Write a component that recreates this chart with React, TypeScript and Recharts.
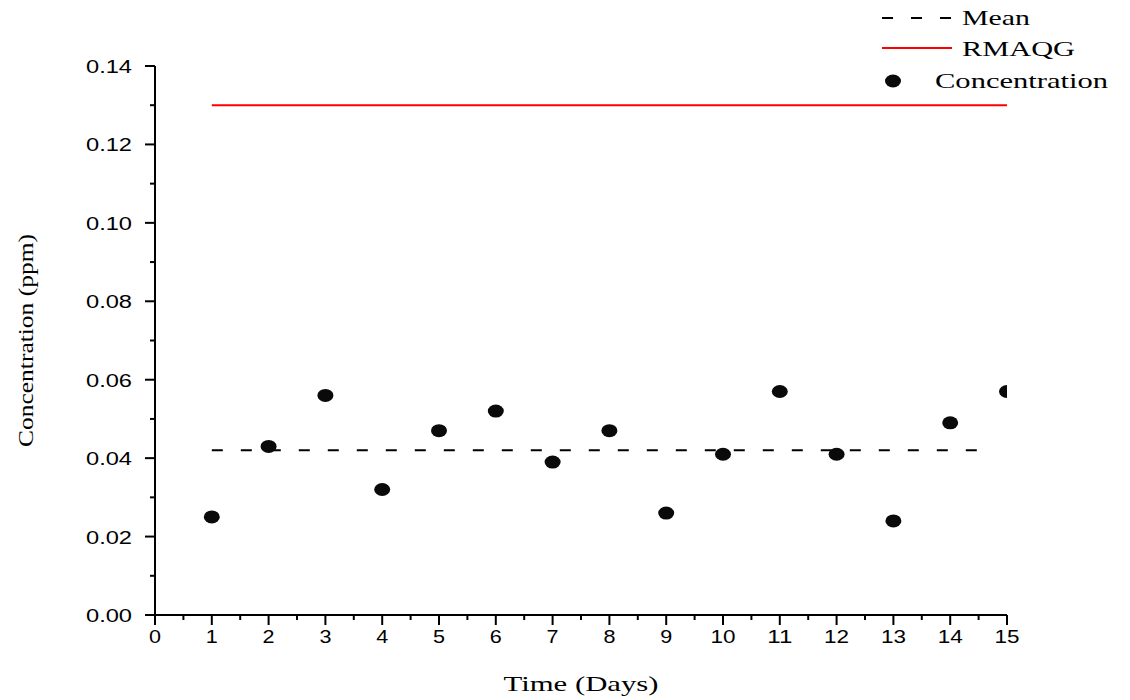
import { ComposedChart, Line, Scatter, XAxis, YAxis } from 'recharts';

// Daily concentration readings (ppm), days 1-15
const days = [1, 2, 3, 4, 5, 6, 7, 8, 9, 10, 11, 12, 13, 14, 15];
const concentration = [0.025, 0.043, 0.056, 0.032, 0.047, 0.052, 0.039, 0.047, 0.026, 0.041, 0.057, 0.041, 0.024, 0.049, 0.057];

// Mean line and the RMAQG guideline
const meanX = [1, 14.55];
const meanValue = 0.042;
const rmaqgX = [1, 15];
const rmaqgValue = 0.13;

// axis ticks (majors get labels, the halves between are minor ticks)
const xTicks = [0, 0.5, 1, 1.5, 2, 2.5, 3, 3.5, 4, 4.5, 5, 5.5, 6, 6.5, 7, 7.5, 8, 8.5, 9, 9.5, 10, 10.5, 11, 11.5, 12, 12.5, 13, 13.5, 14, 14.5, 15];
const yTicks = [0, 0.01, 0.02, 0.03, 0.04, 0.05, 0.06, 0.07, 0.08, 0.09, 0.1, 0.11, 0.12, 0.13, 0.14];

const legendLabels = ['Mean', 'RMAQG', 'Concentration'];

const concData = days.map((d, i) => ({ x: d, y: concentration[i] }));
const meanData = meanX.map((x) => ({ x, y: meanValue }));
const rmaqgData = rmaqgX.map((x) => ({ x, y: rmaqgValue }));

const SANS = '"Liberation Sans", Arial, sans-serif';
const SERIF = '"Liberation Serif", "Times New Roman", serif';

const XTick = (props: any) => {
  const { x, y, payload } = props;
  const v = payload.value;
  const major = Number.isInteger(v);
  return (
    <g>
      <line x1={x} x2={x} y1={y} y2={y + (major ? 10 : 5)} stroke="#000" strokeWidth={2} />
      {major && (
        <text
          x={x}
          y={y + 28}
          textAnchor="middle"
          fontFamily={SANS}
          fontSize={19}
          fill="#000"
          textLength={v >= 10 ? 25 : 12}
          lengthAdjust="spacingAndGlyphs"
        >
          {v}
        </text>
      )}
    </g>
  );
};

const YTick = (props: any) => {
  const { x, y, payload } = props;
  const v = payload.value;
  const major = Math.round(v * 100) % 2 === 0;
  return (
    <g>
      <line x1={x - (major ? 10 : 5)} x2={x} y1={y} y2={y} stroke="#000" strokeWidth={2} />
      {major && (
        <text
          x={x - 69}
          y={y + 7}
          fontFamily={SANS}
          fontSize={18}
          fill="#000"
          textLength={46}
          lengthAdjust="spacingAndGlyphs"
        >
          {v.toFixed(2)}
        </text>
      )}
    </g>
  );
};

const Dot = (props: any) => {
  const { cx, cy } = props;
  return <ellipse cx={cx} cy={cy} rx={8} ry={6.5} fill="#0a0a0a" />;
};

// legend drawn on top, in the upper right corner
const LegendBox = () => (
  <svg width={250} height={95} style={{ position: 'absolute', left: 870, top: 0, overflow: 'visible' }}>
    <line x1={4} x2={77} y1={10} y2={10} stroke="#000" strokeWidth={2} strokeDasharray="11 18" />
    <text x={84} y={17} fontFamily={SERIF} fontSize={22} textLength={68} lengthAdjust="spacingAndGlyphs">{legendLabels[0]}</text>
    <line x1={4} x2={74} y1={40} y2={40} stroke="#ff0000" strokeWidth={2} />
    <text x={84} y={48} fontFamily={SERIF} fontSize={22} textLength={113} lengthAdjust="spacingAndGlyphs">{legendLabels[1]}</text>
    <ellipse cx={15} cy={73} rx={8} ry={6.5} fill="#0a0a0a" />
    <text x={57} y={80} fontFamily={SERIF} fontSize={22} textLength={173} lengthAdjust="spacingAndGlyphs">{legendLabels[2]}</text>
  </svg>
);

export default function App() {
  return (
    <div style={{ position: 'relative', width: 1122, height: 692 }}>
      <ComposedChart
        width={1122}
        height={692}
        margin={{ top: 58, right: 123, left: 0, bottom: 0 }}
      >
        <XAxis
          dataKey="x"
          type="number"
          domain={[0, 15]}
          ticks={xTicks}
          interval={0}
          tickSize={0}
          tickMargin={0}
          height={85}
          tick={<XTick />}
          axisLine={{ stroke: '#000', strokeWidth: 2 }}
          allowDataOverflow
          label={({ viewBox }: any) => (
            <text
              x={viewBox.x + viewBox.width / 2}
              y={675}
              textAnchor="middle"
              dominantBaseline="central"
              fontFamily={SERIF}
              fontSize={22}
              textLength={155}
              lengthAdjust="spacingAndGlyphs"
            >
              Time (Days)
            </text>
          )}
        />
        <YAxis
          type="number"
          domain={[0, 0.14]}
          ticks={yTicks}
          interval={0}
          tickSize={0}
          tickMargin={0}
          width={147}
          tick={<YTick />}
          axisLine={{ stroke: '#000', strokeWidth: 2 }}
          allowDataOverflow
          label={({ viewBox }: any) => {
            const cy = viewBox.y + viewBox.height / 2;
            return (
              <text
                x={17}
                y={cy}
                transform={`rotate(-90, 17, ${cy})`}
                textAnchor="middle"
                dominantBaseline="central"
                fontFamily={SERIF}
                fontSize={22}
                textLength={213}
                lengthAdjust="spacingAndGlyphs"
              >
                Concentration (ppm)
              </text>
            );
          }}
        />
        <Line
          data={rmaqgData}
          dataKey="y"
          name="RMAQG"
          stroke="#ff0000"
          strokeWidth={2}
          dot={false}
          isAnimationActive={false}
        />
        <Line
          data={meanData}
          dataKey="y"
          name="Mean"
          stroke="#000"
          strokeWidth={2}
          strokeDasharray="11 18"
          dot={false}
          isAnimationActive={false}
        />
        <Scatter data={concData} dataKey="y" name="Concentration" shape={<Dot />} isAnimationActive={false} />
      </ComposedChart>
      <LegendBox />
    </div>
  );
}
